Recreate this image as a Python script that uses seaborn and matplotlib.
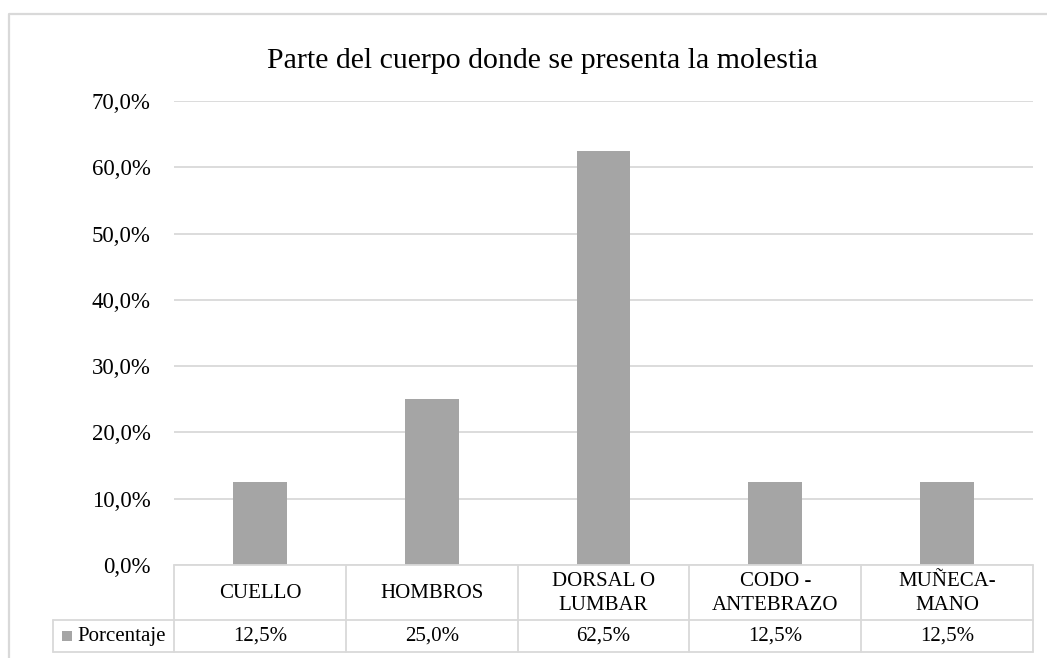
import matplotlib
matplotlib.use("Agg")
import matplotlib.pyplot as plt
import seaborn as sns
import pandas as pd
from matplotlib.lines import Line2D
from matplotlib.patches import Rectangle
from matplotlib.transforms import blended_transform_factory

# ---- data ----
categories = ["CUELLO", "HOMBROS", "DORSAL O\nLUMBAR", "CODO -\nANTEBRAZO", "MUÑECA-\nMANO"]
values = [0.125, 0.25, 0.625, 0.125, 0.125]
value_labels = ["12,5%", "25,0%", "62,5%", "12,5%", "12,5%"]
yticks = [0.0, 0.1, 0.2, 0.3, 0.4, 0.5, 0.6, 0.7]
ytick_labels = ["0,0%", "10,0%", "20,0%", "30,0%", "40,0%", "50,0%", "60,0%", "70,0%"]
series_name = "Porcentaje"
title = "Parte del cuerpo donde se presenta la molestia"

sns.set_theme(style="white")
FAM = ["Liberation Serif", "DejaVu Serif"]
plt.rcParams["font.family"] = FAM

W, H = 1047, 658
fig = plt.figure(figsize=(W / 100, H / 100), dpi=100)

def fx(px):
    return px / W

def fy(py):
    return 1 - py / H

ax_left, ax_right, ax_top, ax_bottom = 174, 1033, 101, 565
ax = fig.add_axes([fx(ax_left), fy(ax_bottom), fx(ax_right - ax_left), fy(ax_top) - fy(ax_bottom)])

df = pd.DataFrame({"cat": categories, "val": values})
sns.barplot(data=df, x="cat", y="val", color="#A5A5A5", width=0.314,
            saturation=1, linewidth=0, ax=ax, zorder=3)

ax.set_xlim(-0.5, len(categories) - 0.5)
ax.set_ylim(0, 0.7)
ax.set_yticks(yticks)
ax.set_yticklabels(ytick_labels, fontsize=16.5, color="#000000", family=FAM)
ax.tick_params(axis="y", length=0, pad=17)
ax.set_xticks([])
ax.set_xlabel("")
ax.set_ylabel("")
for s in ax.spines.values():
    s.set_visible(False)
ax.yaxis.grid(True, color="#D9D9D9", linewidth=1.3, zorder=0)
ax.set_axisbelow(True)

grid_c = "#D9D9D9"
# outer chart border (left and top)
fig.add_artist(Line2D([fx(9), fx(9), fx(W + 5)], [fy(H + 5), fy(14), fy(14)],
                      transform=fig.transFigure, color=grid_c, lw=1.6))

# title
fig.text(fx(542), fy(61), title, ha="center", va="center", fontsize=21.5,
         color="#000000", family=FAM)

# data table
tr = blended_transform_factory(ax.transData, fig.transFigure)
row_top, row_mid, row_bot = 565, 620, 652
n = len(categories)
fig.add_artist(Line2D([fx(ax_left), fx(ax_right)], [fy(row_top)] * 2, transform=fig.transFigure, color=grid_c, lw=1.3))
fig.add_artist(Line2D([fx(53), fx(ax_right)], [fy(row_mid)] * 2, transform=fig.transFigure, color=grid_c, lw=1.3))
fig.add_artist(Line2D([fx(53), fx(ax_right)], [fy(row_bot)] * 2, transform=fig.transFigure, color=grid_c, lw=1.3))
fig.add_artist(Line2D([fx(53), fx(53)], [fy(row_mid), fy(row_bot)], transform=fig.transFigure, color=grid_c, lw=1.3))
for i in range(n + 1):
    xb = i - 0.5
    fig.add_artist(Line2D([xb, xb], [fy(row_top), fy(row_bot)], transform=tr, color=grid_c, lw=1.3))

for i, (c, v) in enumerate(zip(categories, value_labels)):
    fig.text(i, fy((row_top + row_mid) / 2 + 1), c, transform=tr, ha="center", va="center",
             fontsize=15, linespacing=1.3, color="#000000", family=FAM)
    fig.text(i, fy((row_mid + row_bot) / 2), v, transform=tr, ha="center", va="center",
             fontsize=15, color="#000000", family=FAM)

fig.add_artist(Rectangle((fx(62), fy(641)), fx(10), fy(631) - fy(641), transform=fig.transFigure,
                         facecolor="#A5A5A5", edgecolor="none"))
fig.text(fx(77), fy((row_mid + row_bot) / 2), series_name, ha="left", va="center",
         fontsize=15, color="#000000", family=FAM)

fig.savefig("out.png", dpi=100, facecolor="white")
